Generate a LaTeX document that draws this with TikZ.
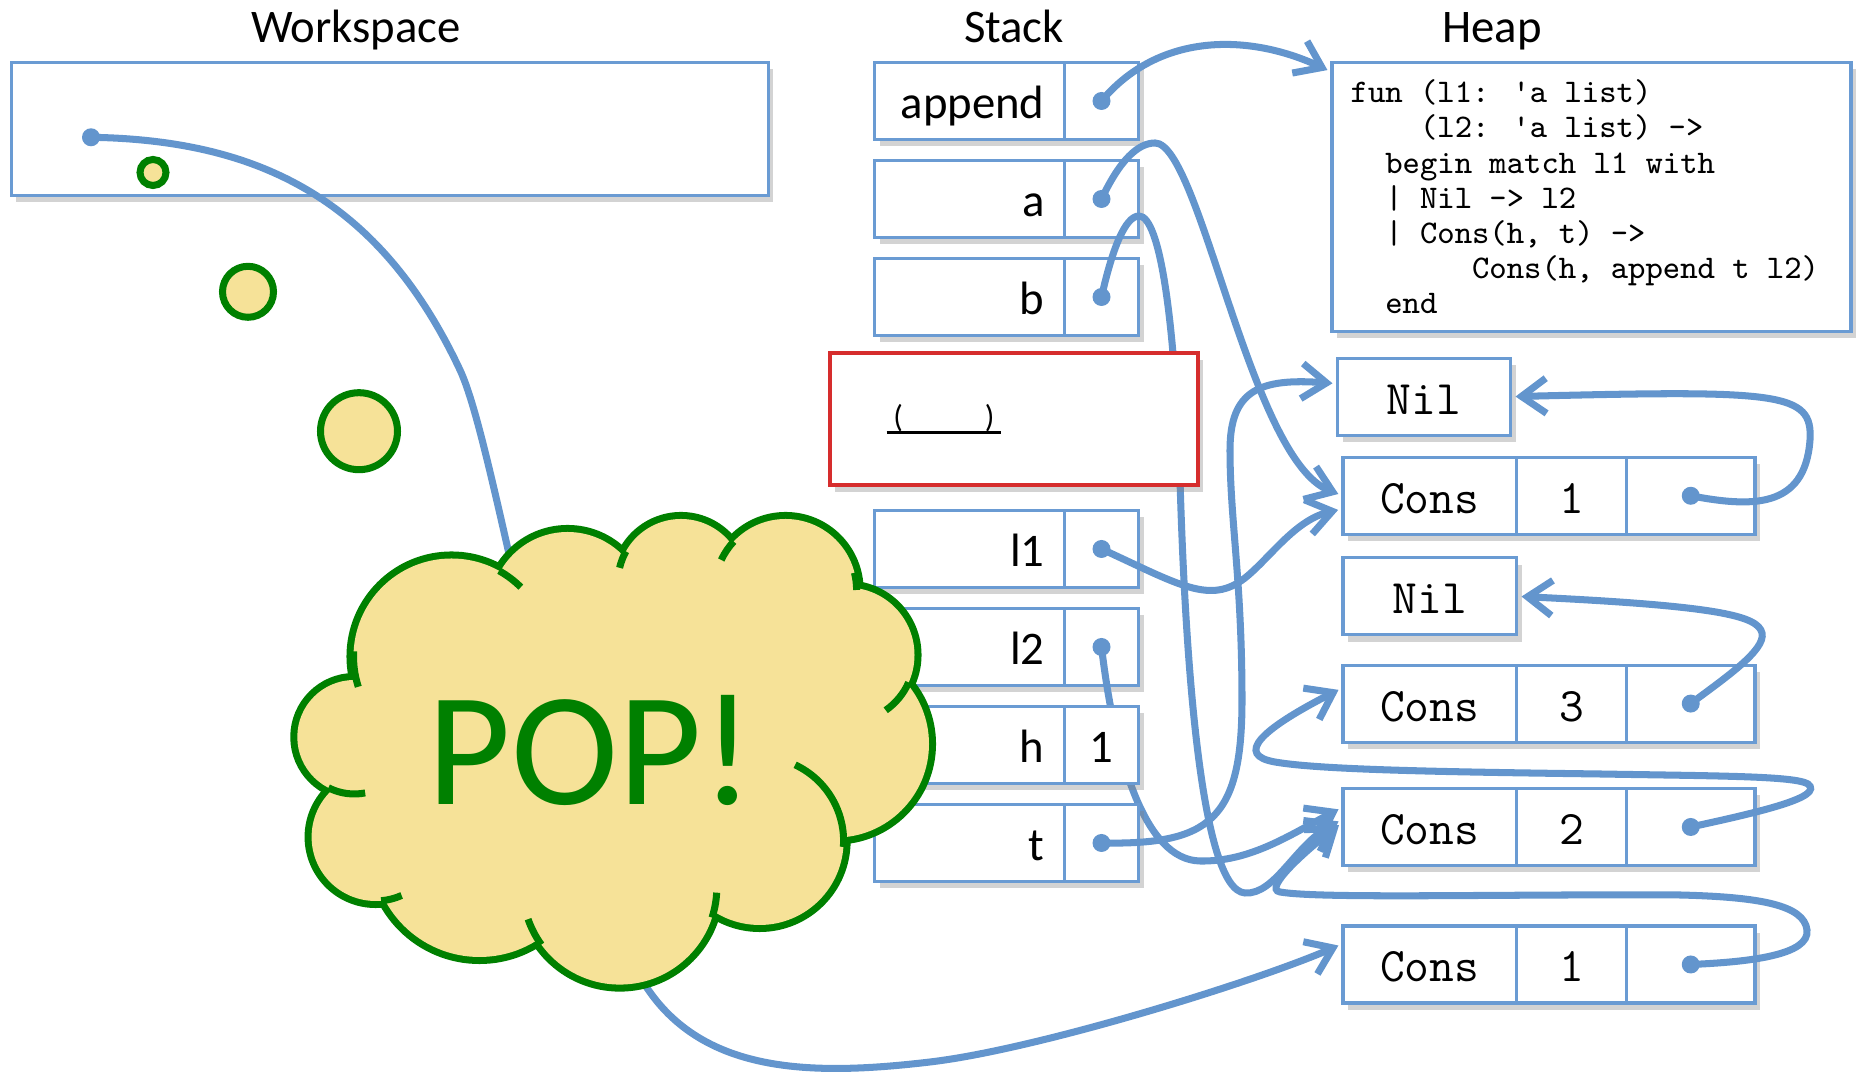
\documentclass[tikz,border=0pt]{standalone}
\usepackage{fontspec}
\setmainfont{Carlito}
\usetikzlibrary{positioning, arrows.meta, shadows}

\definecolor{boxblue}{RGB}{106,155,211}
\definecolor{ptrblue}{RGB}{99,149,205}
\definecolor{framered}{RGB}{214,45,45}
\definecolor{popgreen}{RGB}{0,128,0}
\definecolor{popyellow}{RGB}{246,226,152}

\begin{document}
\begin{tikzpicture}[
    heading/.style={font=\fontsize{13.3}{16}\selectfont, anchor=base},
    cell/.style={draw=boxblue, line width=0.9pt, fill=white, inner sep=0pt, outer sep=0pt,
        minimum height=0.77cm, text height=0.40cm, text depth=0.05cm,
        drop shadow={shadow xshift=0.5mm, shadow yshift=-0.7mm, opacity=0.35}},
    var/.style={cell, font=\fontsize{13.3}{16}\selectfont, text width=1.5cm, inner xsep=0.2cm, align=right},
    slot/.style={cell, font=\fontsize{13.3}{16}\selectfont, minimum width=0.74cm},
    heapcell/.style={cell, font=\ttfamily\fontsize{13.7}{16}\selectfont},
    ptrdot/.style={circle, fill=ptrblue, inner sep=0pt, minimum size=0.18cm},
    ptr/.style={draw=ptrblue, line width=2pt, line cap=round, shorten >=0.5mm,
        -{Straight Barb[length=7pt, width=10pt]}},
    bubble/.style={draw=popgreen, line width=2pt, fill=popyellow}
]
\useasboundingbox (0,0) rectangle (18.58,-10.78);

% --- headings ---
\node[heading] (wstitle) at (3.56,-0.427) {Workspace};
\node[heading] (sttitle) at (10.14,-0.427) {Stack};
\node[heading] (hptitle) at (14.92,-0.427) {Heap};

% --- workspace ---
\node[cell, minimum width=7.57cm, minimum height=1.33cm] (ws) at (3.896,-1.287) {};
\node[ptrdot] (wsd) at (0.91,-1.373) {};

% --- stack, upper frames ---
\node[var] (fn) at (9.695,-1.01) {append};
\node[slot, right=0pt of fn] (fnp) {};
\node[var, below=0.21cm of fn] (va) {a};
\node[slot, right=0pt of va] (vap) {};
\node[var, below=0.21cm of va] (vb) {b};
\node[slot, right=0pt of vb] (vbp) {};
\node[ptrdot] (fnd) at (fnp) {};
\node[ptrdot] (vad) at (vap) {};
\node[ptrdot] (vbd) at (vbp) {};

% --- heap ---
\node[cell, minimum width=5.19cm, minimum height=2.69cm] (code) at (15.915,-1.967) {};
\node[anchor=north west, inner sep=0pt, align=left, font=\ttfamily\fontsize{9.4}{10}\selectfont]
    (src) at ([xshift=1.8mm, yshift=-1.7mm]code.north west)
    {fun (l1: \textquotesingle a list)\\
     \hspace*{2.1em}(l2: \textquotesingle a list) ->\\
     \hspace*{1.05em}begin match l1 with\\
     \hspace*{1.05em}| Nil -> l2\\
     \hspace*{1.05em}| Cons(h, t) ->\\
     \hspace*{3.675em}Cons(h, append t l2)\\
     \hspace*{1.05em}end};

\node[heapcell, minimum width=1.73cm] (nil1) at (14.24,-3.967) {Nil};
\node[heapcell, minimum width=1.735cm] (lst1) at (14.2975,-4.958) {Cons};
\node[heapcell, minimum width=1.10cm, right=0pt of lst1] (lst1v) {1};
\node[heapcell, minimum width=1.285cm, right=0pt of lst1v] (lst1p) {};
\node[heapcell, minimum width=1.735cm] (nil2) at (14.2975,-5.963) {Nil};
\node[heapcell, minimum width=1.735cm] (lst3) at (14.2975,-7.036) {Cons};
\node[heapcell, minimum width=1.10cm, right=0pt of lst3] (lst3v) {3};
\node[heapcell, minimum width=1.285cm, right=0pt of lst3v] (lst3p) {};
\node[heapcell, minimum width=1.735cm] (lst2) at (14.2975,-8.27) {Cons};
\node[heapcell, minimum width=1.10cm, right=0pt of lst2] (lst2v) {2};
\node[heapcell, minimum width=1.285cm, right=0pt of lst2v] (lst2p) {};
\node[heapcell, minimum width=1.735cm] (res1) at (14.2975,-9.645) {Cons};
\node[heapcell, minimum width=1.10cm, right=0pt of res1] (res1v) {1};
\node[heapcell, minimum width=1.285cm, right=0pt of res1v] (res1p) {};
\node[ptrdot] (lst1d) at (lst1p) {};
\node[ptrdot] (lst3d) at (lst3p) {};
\node[ptrdot] (lst2d) at (lst2p) {};
\node[ptrdot] (res1d) at (res1p) {};

% --- pointers out of the upper frames ---
\draw[ptr] (fnd.center) to[out=50, in=155] ([yshift=-1mm]code.north west);
\draw[ptr] (vad.center) .. controls (11.2,-1.6) and (11.38,-1.43) .. (11.55,-1.43)
    .. controls (12.0,-1.43) and (12.5,-4.6) .. (lst1.west);
\draw[ptr] (vbd.center) .. controls (11.12,-2.5) and (11.25,-2.16) .. (11.39,-2.16)
    .. controls (11.6,-2.16) and (11.75,-3.2) .. (11.8,-4.8)
    .. controls (11.85,-6.5) and (12.0,-8.9) .. (12.45,-8.93)
    .. controls (12.75,-8.95) and (12.95,-8.45) .. ([yshift=0.8mm]lst2.west);

% the frame being built
\node[draw=framered, line width=0.9pt, fill=white, minimum width=3.68cm, minimum height=1.32cm,
    drop shadow={shadow xshift=0.5mm, shadow yshift=-0.7mm, opacity=0.35}] (frame) at (10.14,-4.19) {};
\node[font=\fontsize{9}{10}\selectfont, inner xsep=0.06cm, inner ysep=0pt, anchor=base]
    (blank) at (9.44,-4.28) {(\hspace{0.82cm})};
\draw[line width=0.9pt] ([yshift=-0.45mm]blank.base west) -- ([yshift=-0.45mm]blank.base east);

% --- stack, frame of append ---
\node[var] (vl1) at (9.695,-5.49) {l1};
\node[slot, right=0pt of vl1] (vl1p) {};
\node[var, below=0.21cm of vl1] (vl2) {l2};
\node[slot, right=0pt of vl2] (vl2p) {};
\node[ptrdot] (vl1d) at (vl1p) {};
\node[ptrdot] (vl2d) at (vl2p) {};

\draw[ptr] (vl1d.center) .. controls (11.8,-5.85) and (12.1,-6.05) .. (12.45,-5.78)
    .. controls (12.7,-5.58) and (12.95,-5.2) .. ([yshift=-1.3mm]lst1.west);
\draw[ptr] (vl2d.center) .. controls (11.15,-7.6) and (11.45,-8.6) .. (12.0,-8.61)
    .. controls (12.5,-8.62) and (12.9,-8.35) .. ([yshift=2mm]lst2.west);

\node[var, below=0.21cm of vl2] (vh) {h};
\node[slot, right=0pt of vh] (vhv) {1};
\node[var, below=0.21cm of vh] (vt) {t};
\node[slot, right=0pt of vt] (vtp) {};
\node[ptrdot] (vtd) at (vtp) {};

\draw[ptr] (vtd.center) .. controls (12.1,-8.45) and (12.42,-8.2) .. (12.42,-7.0)
    .. controls (12.42,-5.8) and (12.30,-5.2) .. (12.30,-4.5)
    .. controls (12.30,-3.9) and (12.6,-3.78) .. ([yshift=1.3mm]nil1.west);

% --- tails of the cons cells ---
\draw[ptr] (lst1d.center) .. controls (17.5,-5.07) and (18.05,-5.1) .. (18.10,-4.4)
    .. controls (18.13,-3.92) and (17.8,-3.9) .. (nil1.east);
\draw[ptr] (lst3d.center) .. controls (17.25,-6.78) and (17.66,-6.5) .. (17.62,-6.33)
    .. controls (17.58,-6.16) and (17.2,-6.06) .. (nil2.east);
\draw[ptr] (lst2d.center) .. controls (17.6,-8.12) and (18.25,-7.97) .. (18.08,-7.84)
    .. controls (17.95,-7.76) and (17.2,-7.76) .. (16.0,-7.74)
    .. controls (14.5,-7.72) and (13.2,-7.70) .. (12.75,-7.62)
    .. controls (12.35,-7.55) and (12.6,-7.3) .. ([yshift=1.6mm]lst3.west);
\draw[ptr] (res1d.center) .. controls (17.5,-9.62) and (18.1,-9.55) .. (18.07,-9.30)
    .. controls (18.04,-9.05) and (17.6,-8.97) .. (16.8,-8.95)
    .. controls (15.0,-8.94) and (13.2,-8.99) .. (12.8,-8.92)
    .. controls (12.62,-8.89) and (13.09,-8.48) .. ([yshift=0.5mm]lst2.west);

% result held by the workspace
\draw[ptr] (wsd.center) .. controls (2.6,-1.40) and (3.8,-2.0) .. (4.6,-3.7)
    .. controls (5.0,-4.55) and (5.6,-8.9) .. (6.6,-10.05)
    .. controls (7.2,-10.74) and (8.2,-10.75) .. (9.3,-10.62)
    .. controls (10.4,-10.49) and (12.6,-9.8) .. ([yshift=2.1mm]res1.west);

% --- the pop ---
\foreach \x/\y/\r in {1.53/-1.725/0.13, 2.48/-2.918/0.255, 3.59/-4.312/0.385}
    \draw[bubble] (\x,\y) circle (\r);

\def\puffs{4.515/-6.565/0.98, 5.676/-6.09/0.77, 6.81/-5.82/0.63, 7.856/-5.90/0.71,
    8.47/-6.55/0.675, 8.354/-7.44/0.936, 7.596/-8.41/0.84, 6.198/-8.876/0.97,
    4.795/-8.50/1.07, 3.756/-8.37/0.64, 3.543/-7.37/0.57}
\foreach \x/\y/\r in \puffs
    \draw[popgreen, line width=4pt] (\x,\y) circle (\r);
\fill[popyellow] (4.515,-6.565) -- (5.676,-6.09) -- (6.81,-5.82) -- (7.856,-5.90) -- (8.47,-6.55)
    -- (8.354,-7.44) -- (7.596,-8.41) -- (6.198,-8.876) -- (4.795,-8.50) -- (3.756,-8.37)
    -- (3.543,-7.37) -- cycle;
\foreach \x/\y/\r in \puffs
    \fill[popyellow] (\x,\y) circle (\r);
% inner folds of the cloud
\foreach \x/\y/\r/\a/\b in {4.515/-6.565/0.98/177/198, 4.515/-6.565/0.98/61/45,
    6.81/-5.82/0.63/151/167, 7.856/-5.90/0.71/137/155, 7.856/-5.90/0.71/14/0,
    8.47/-6.55/0.675/-24/-55, 7.596/-8.41/0.84/-4/65, 6.198/-8.876/0.97/-18/-3,
    6.198/-8.876/0.97/-144/-161, 3.756/-8.37/0.64/-85/-66, 3.543/-7.37/0.57/-117/-79}
    \draw[popgreen, line width=2pt] (\x,\y) ++(\a:\r) arc[start angle=\a, end angle=\b, radius=\r];

\node[font=\fontsize{46}{50}\selectfont, text=popgreen, anchor=base] (pop) at (5.91,-8.05) {POP!};
\end{tikzpicture}
\end{document}
